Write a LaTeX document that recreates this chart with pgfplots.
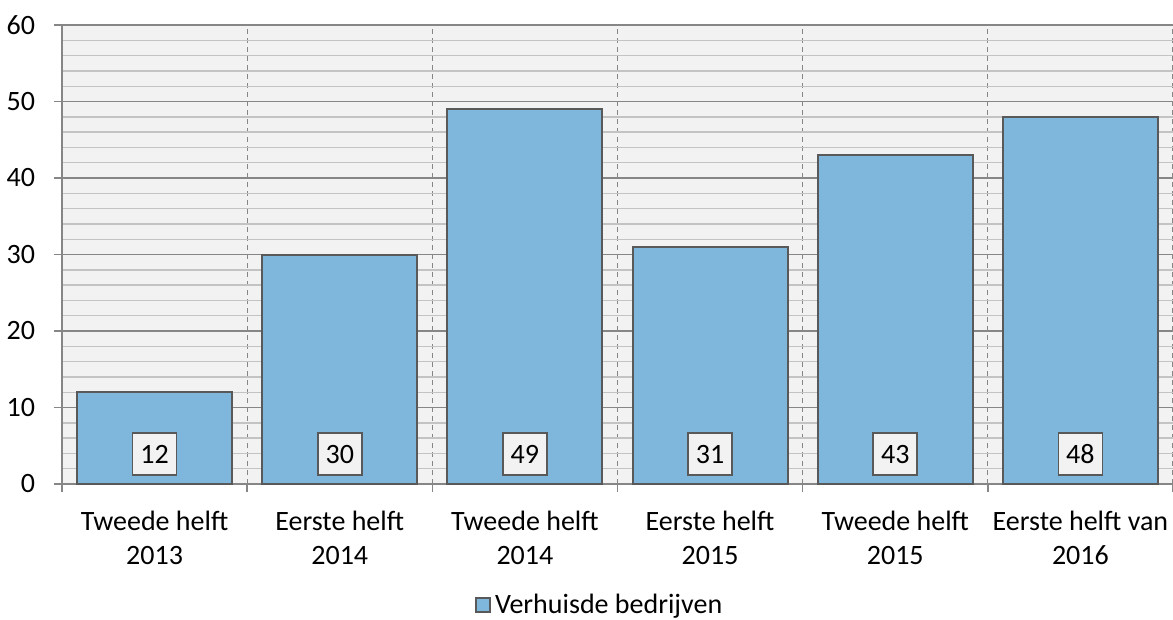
\documentclass[border=0pt]{standalone}
\usepackage{fontspec}
\setmainfont{Carlito}
\usepackage{pgfplots}
\pgfplotsset{compat=1.18}
\usepackage{pgfplotstable}

\definecolor{barblue}{HTML}{7FB6DC}
\definecolor{bardraw}{HTML}{595959}
\definecolor{plotbg}{HTML}{F2F2F2}
\definecolor{majgrid}{HTML}{868686}
\definecolor{mingrid}{HTML}{C3C3C3}

% halfjaren, verhuisde bedrijven
\pgfplotstableread{
x y
0 12
1 30
2 49
3 31
4 43
5 48
}\verhuisd

\begin{document}
\begin{tikzpicture}
\begin{axis}[
  name=ax, at={(0,0)}, anchor=south west,
  width=555.5bp, height=229.5bp, scale only axis,
  font=\fontsize{14bp}{17bp}\selectfont,
  /pgf/number format/assume math mode=true,
  xmin=-0.5, xmax=5.5, ymin=0, ymax=60,
  axis background/.style={fill=plotbg},
  axis x line*=bottom, axis y line*=left,
  axis line style={majgrid, line width=0.8bp},
  tick align=outside, major tick length=4bp, minor tick length=0pt,
  tick style={majgrid, line width=0.8bp},
  ytick={0,10,...,60}, minor y tick num=4,
  ymajorgrids, yminorgrids,
  major grid style={majgrid, line width=0.7bp},
  minor grid style={mingrid, line width=0.7bp},
  xtick={-0.5,0.5,...,5.5}, xticklabels={,,,,,,},
  xmajorgrids,
  x grid style={dash pattern=on 2.5bp off 2bp, line width=0.6bp},
  extra x ticks={0,1,2,3,4,5},
  extra x tick labels={{Tweede helft\\2013},{Eerste helft\\2014},{Tweede helft\\2014},{Eerste helft\\2015},{Tweede helft\\2015},{Eerste helft van\\2016}},
  extra x tick style={major tick length=0pt, grid=none},
  xticklabel style={align=center, text=black, yshift=-10bp},
  yticklabel style={text=black, xshift=-6bp},
  legend style={at={(axis description cs:0.485,-0.264)}, anchor=center,
    draw=none, fill=none, font=\fontsize{14bp}{17bp}\selectfont},
]
\addplot[ybar, bar width=77.5bp, fill=barblue, draw=bardraw, line width=1bp,
  legend image code/.code={\draw[fill=barblue, draw=bardraw, line width=0.8bp] (0bp,-3.5bp) rectangle (7bp,3.5bp);}]
  table[x=x, y=y]{\verhuisd};
\addlegendentry{Verhuisde bedrijven}
\addplot[only marks, mark=none, forget plot, nodes near coords, point meta=explicit,
  nodes near coords style={anchor=center, fill=plotbg, draw=bardraw, line width=0.8bp,
    minimum width=22bp, minimum height=21bp, inner sep=0pt, text=black}]
  table[x=x, y expr=3.9, meta=y]{\verhuisd};
\end{axis}
\pgfresetboundingbox
\path[use as bounding box] (-31bp,-68bp) rectangle (555.5bp,242bp);
\end{tikzpicture}
\end{document}
